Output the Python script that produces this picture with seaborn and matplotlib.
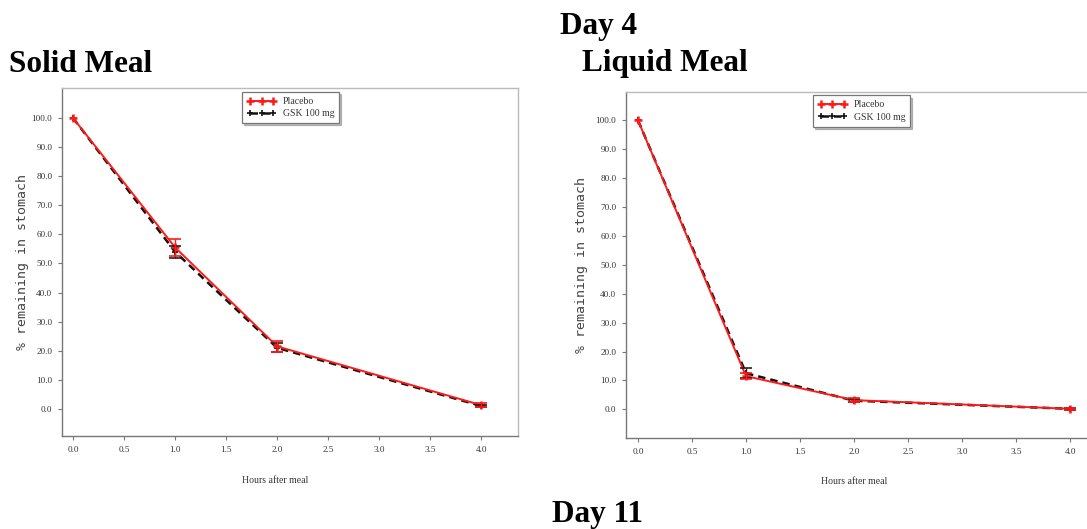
import numpy as np
import pandas as pd
import matplotlib
matplotlib.use("Agg")
import matplotlib.pyplot as plt
import seaborn as sns

# Gastric emptying: % of meal remaining in stomach vs hours after meal
hours = [0.0, 1.0, 2.0, 4.0]
treatments = ["Placebo", "GSK 100 mg"]

solid_placebo = [100.0, 55.5, 21.5, 1.3]
solid_placebo_se = [0.0, 3.0, 2.0, 0.6]
solid_gsk = [100.0, 54.0, 21.0, 1.0]
solid_gsk_se = [0.0, 2.0, 1.5, 0.5]

liquid_placebo = [100.0, 11.5, 3.2, 0.2]
liquid_placebo_se = [0.0, 1.0, 0.6, 0.3]
liquid_gsk = [100.0, 12.5, 3.0, 0.2]
liquid_gsk_se = [0.0, 1.8, 0.6, 0.3]

x_ticks = [0.0, 0.5, 1.0, 1.5, 2.0, 2.5, 3.0, 3.5, 4.0]
y_ticks = [0.0, 10.0, 20.0, 30.0, 40.0, 50.0, 60.0, 70.0, 80.0, 90.0, 100.0]

RED = "#ff1a1a"
BLACK = "#111111"

sns.set_style("white")
plt.rcParams["font.family"] = ["Liberation Serif", "DejaVu Serif"]

W, H = 1087, 529
fig = plt.figure(figsize=(W / 100, H / 100), dpi=100)


def px_axes(left, top, right, bottom):
    return fig.add_axes([left / W, 1 - bottom / H, (right - left) / W, (bottom - top) / H])


def draw_errorbars(ax, y, se, color):
    keep = [i for i, s in enumerate(se) if s > 0]
    ax.errorbar([hours[i] for i in keep], [y[i] for i in keep], yerr=[se[i] for i in keep],
                fmt="none", ecolor=color, elinewidth=1.0, capsize=4, capthick=1.2)


def panel(ax, placebo, placebo_se, gsk, gsk_se, xlim, ylim, legend_xy):
    df = pd.DataFrame({
        "Hours after meal": hours * 2,
        "pct": placebo + gsk,
        "Treatment": [treatments[0]] * 4 + [treatments[1]] * 4,
    })
    # dashed GSK line drawn first, solid placebo line on top
    sns.lineplot(data=df[df.Treatment == "GSK 100 mg"], x="Hours after meal", y="pct",
                 color=BLACK, ax=ax, linestyle=(0, (3, 2)), linewidth=1.8,
                 marker="+", markersize=5, markeredgewidth=1.2,
                 markeredgecolor=BLACK, label="GSK 100 mg")
    sns.lineplot(data=df[df.Treatment == "Placebo"], x="Hours after meal", y="pct",
                 color=RED, ax=ax, linewidth=1.4,
                 marker="+", markersize=6, markeredgewidth=1.8,
                 markeredgecolor=RED, label="Placebo")
    draw_errorbars(ax, gsk, gsk_se, "#222222")
    draw_errorbars(ax, placebo, placebo_se, RED)

    ax.set_xlim(*xlim)
    ax.set_ylim(*ylim)
    ax.set_xticks(x_ticks)
    ax.set_xticklabels([f"{v:.1f}" for v in x_ticks])
    ax.set_yticks(y_ticks)
    ax.set_yticklabels([f"{v:.1f}" for v in y_ticks])
    ax.tick_params(axis="both", which="both", direction="out", length=3, width=0.8,
                   color="#777777", labelsize=6.6, labelcolor="#333333",
                   bottom=True, left=True, pad=4)
    for side, sp in ax.spines.items():
        sp.set_visible(True)
        sp.set_linewidth(1.0)
        sp.set_color("#777777" if side in ("left", "bottom") else "#bbbbbb")

    ax.set_xlabel("Hours after meal", fontsize=7.0, color="#333333")
    ax.xaxis.set_label_coords(0.467, -0.115)
    ax.set_ylabel("% remaining in stomach", fontsize=9.5, color="#444444",
                  family="DejaVu Sans Mono")
    ax.yaxis.set_label_coords(-0.072, 0.5)

    handles, labels = ax.get_legend_handles_labels()
    order = [labels.index("Placebo"), labels.index("GSK 100 mg")]
    leg = ax.legend([handles[i] for i in order], [labels[i] for i in order],
                    loc="upper left", bbox_to_anchor=legend_xy, fontsize=7.0,
                    frameon=True, fancybox=False, shadow={"ox": 1.5, "oy": -1.5, "alpha": 0.35},
                    numpoints=3, handlelength=3.0, handletextpad=0.7, borderpad=0.5,
                    labelspacing=0.35, borderaxespad=0)
    leg.get_frame().set_edgecolor("#777777")
    leg.get_frame().set_linewidth(0.9)
    for t in leg.get_texts():
        t.set_color("#333333")


# Solid meal panel (left)
ax1 = px_axes(62, 88, 518, 436)
panel(ax1, solid_placebo, solid_placebo_se, solid_gsk, solid_gsk_se,
      xlim=(-0.108, 4.36), ylim=(-9.3, 110.3), legend_xy=(0.395, 0.988))

# Liquid meal panel (right), extends past the page edge
ax2 = px_axes(626, 92, 1109, 438)
panel(ax2, liquid_placebo, liquid_placebo_se, liquid_gsk, liquid_gsk_se,
      xlim=(-0.111, 4.36), ylim=(-9.9, 109.8), legend_xy=(0.387, 0.99))
ax2.xaxis.set_label_coords(0.472, -0.114)
ax2.yaxis.set_label_coords(-0.078, 0.5)

title_kw = dict(fontsize=22.5, fontweight="bold", family=["Liberation Serif", "DejaVu Serif"],
                va="baseline", ha="left", color="black")
fig.text(9 / W, 1 - 72 / H, "Solid Meal", **title_kw)
fig.text(560 / W, 1 - 34 / H, "Day 4", **title_kw)
fig.text(582 / W, 1 - 71 / H, "Liquid Meal", **title_kw)
fig.text(552 / W, 1 - 522 / H, "Day 11", **title_kw)

fig.savefig("out.png", dpi=100)
